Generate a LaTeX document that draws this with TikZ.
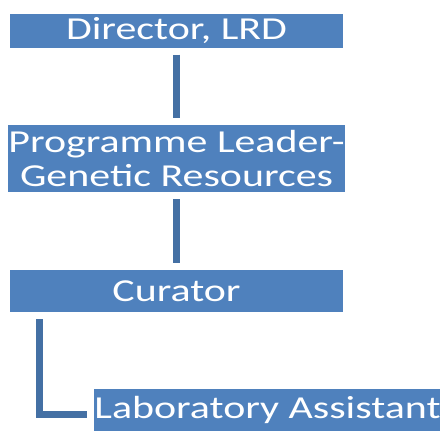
\documentclass[tikz,border=0pt]{standalone}
\usepackage{fontspec}
\setmainfont{Carlito}[FakeStretch=1.31]
\definecolor{boxblue}{HTML}{4F81BD}
\definecolor{lineblue}{HTML}{4470A4}

\begin{document}
\begin{tikzpicture}[x=1pt, y=-1pt,
    rolebox/.style={fill=boxblue, text=white, inner sep=0pt, align=center,
        font=\fontsize{32}{34}\selectfont},
    link/.style={draw=lineblue, line width=7pt}]
                        \useasboundingbox (0,0) rectangle (440,431);
                        \node (dir) [rolebox, minimum width=333pt, minimum height=33.5pt] at (176.5,30.75) {Director, LRD};
                        \node (prog) [rolebox, minimum width=333pt, minimum height=67pt] at (176.5,158.5) {Programme Leader-\\Genetic Resources};
                        \node (cur) [rolebox, minimum width=333pt, minimum height=42pt] at (176.5,291) {Curator};
                        \node (lab) [rolebox, minimum width=345pt, minimum height=42pt] at (267.5,410) {Laboratory Assistant};
                        \draw[link, shorten <=7pt, shorten >=7pt] (dir) -- (prog);
                        \draw[link, shorten <=7pt, shorten >=7pt] (prog) -- (cur);
                        \draw[link] ([xshift=30pt, yshift=-7pt]cur.south west) |- ([xshift=-7pt, yshift=-4pt]lab.west);
                    \end{tikzpicture}
\end{document}
